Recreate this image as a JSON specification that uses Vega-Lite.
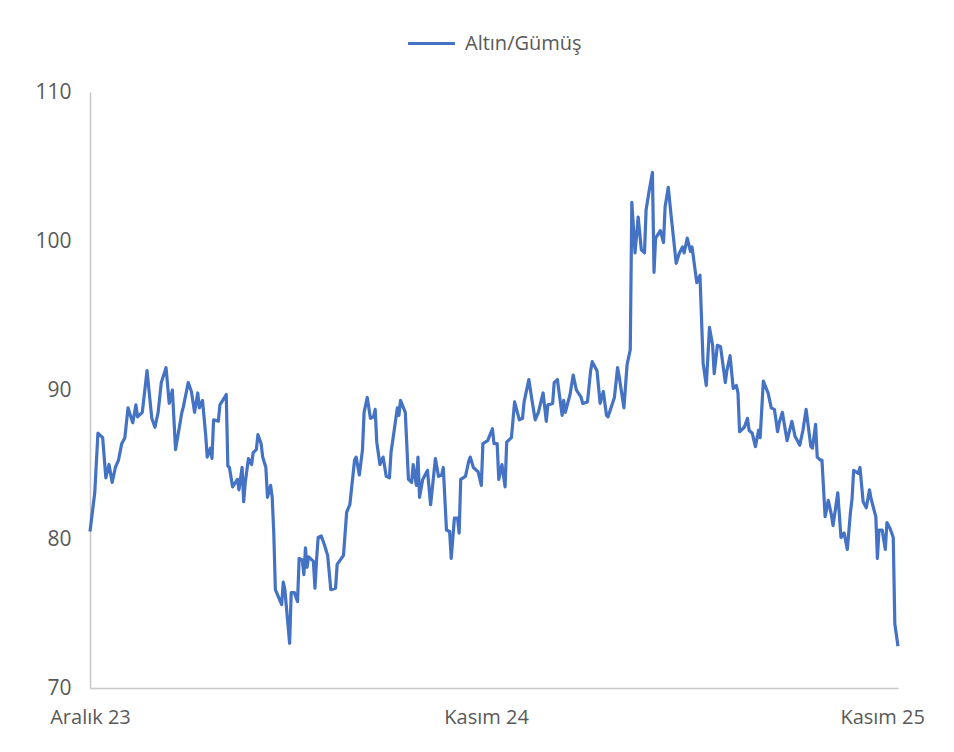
{
  "$schema": "https://vega.github.io/schema/vega-lite/v6.json",
  "autosize": "none",
  "width": 808,
  "height": 596,
  "padding": {"left": 90, "top": 92, "right": 56, "bottom": 64},
  "background": "white",
  "config": {
    "view": {"stroke": null},
    "font": "Open Sans"
  },
  "data": {
    "values": [
      {"gun": 0, "oran": 80.5}, {"gun": 3, "oran": 83.1}, {"gun": 5, "oran": 87.1}, {"gun": 8, "oran": 86.8},
      {"gun": 10, "oran": 84.1}, {"gun": 12, "oran": 85.0}, {"gun": 14, "oran": 83.8}, {"gun": 16, "oran": 84.8},
      {"gun": 18, "oran": 85.3}, {"gun": 20, "oran": 86.4}, {"gun": 22, "oran": 86.8}, {"gun": 24, "oran": 88.8},
      {"gun": 27, "oran": 87.8}, {"gun": 29, "oran": 89.0}, {"gun": 30, "oran": 88.2}, {"gun": 33, "oran": 88.5},
      {"gun": 36, "oran": 91.3}, {"gun": 39, "oran": 88.1}, {"gun": 41, "oran": 87.5}, {"gun": 43, "oran": 88.5},
      {"gun": 45, "oran": 90.5}, {"gun": 48, "oran": 91.5}, {"gun": 50, "oran": 89.1}, {"gun": 52, "oran": 90.0},
      {"gun": 54, "oran": 86.0}, {"gun": 58, "oran": 88.5}, {"gun": 59, "oran": 88.9}, {"gun": 62, "oran": 90.5},
      {"gun": 64, "oran": 89.9}, {"gun": 66, "oran": 88.5}, {"gun": 68, "oran": 89.8}, {"gun": 69, "oran": 88.8},
      {"gun": 71, "oran": 89.3}, {"gun": 73, "oran": 87.0}, {"gun": 74, "oran": 85.5}, {"gun": 76, "oran": 86.1},
      {"gun": 77, "oran": 85.4}, {"gun": 78, "oran": 88.0}, {"gun": 81, "oran": 87.9}, {"gun": 82, "oran": 89.0},
      {"gun": 85, "oran": 89.5}, {"gun": 86, "oran": 89.7}, {"gun": 87, "oran": 84.9}, {"gun": 88, "oran": 84.8},
      {"gun": 90, "oran": 83.5}, {"gun": 93, "oran": 84.0}, {"gun": 94, "oran": 83.3}, {"gun": 96, "oran": 84.8},
      {"gun": 97, "oran": 82.5}, {"gun": 98, "oran": 83.8}, {"gun": 100, "oran": 85.4}, {"gun": 102, "oran": 85.0},
      {"gun": 103, "oran": 85.8}, {"gun": 105, "oran": 86.0}, {"gun": 106, "oran": 87.0}, {"gun": 108, "oran": 86.4},
      {"gun": 109, "oran": 85.5}, {"gun": 111, "oran": 84.8}, {"gun": 112, "oran": 82.8}, {"gun": 114, "oran": 83.6},
      {"gun": 115, "oran": 82.8}, {"gun": 116, "oran": 80.4}, {"gun": 117, "oran": 76.6}, {"gun": 119, "oran": 76.1},
      {"gun": 121, "oran": 75.6}, {"gun": 122, "oran": 77.1}, {"gun": 123, "oran": 76.6}, {"gun": 126, "oran": 73.0},
      {"gun": 127, "oran": 76.4}, {"gun": 129, "oran": 76.4}, {"gun": 131, "oran": 75.8}, {"gun": 132, "oran": 78.7},
      {"gun": 134, "oran": 78.6}, {"gun": 135, "oran": 77.6}, {"gun": 136, "oran": 79.4}, {"gun": 137, "oran": 78.1},
      {"gun": 138, "oran": 78.8}, {"gun": 141, "oran": 78.5}, {"gun": 142, "oran": 76.7}, {"gun": 143, "oran": 78.6},
      {"gun": 144, "oran": 80.1}, {"gun": 146, "oran": 80.2}, {"gun": 148, "oran": 79.6}, {"gun": 150, "oran": 78.9},
      {"gun": 152, "oran": 76.6}, {"gun": 155, "oran": 76.7}, {"gun": 156, "oran": 78.3}, {"gun": 160, "oran": 78.9},
      {"gun": 162, "oran": 81.8}, {"gun": 164, "oran": 82.3}, {"gun": 167, "oran": 85.3}, {"gun": 168, "oran": 85.5},
      {"gun": 170, "oran": 84.3}, {"gun": 172, "oran": 86.0}, {"gun": 173, "oran": 88.5}, {"gun": 175, "oran": 89.5},
      {"gun": 177, "oran": 88.1}, {"gun": 179, "oran": 88.2}, {"gun": 180, "oran": 88.7}, {"gun": 181, "oran": 86.5},
      {"gun": 183, "oran": 85.0}, {"gun": 185, "oran": 85.5}, {"gun": 187, "oran": 84.2}, {"gun": 189, "oran": 84.1},
      {"gun": 190, "oran": 85.8}, {"gun": 192, "oran": 87.3}, {"gun": 194, "oran": 88.8}, {"gun": 195, "oran": 88.3},
      {"gun": 196, "oran": 89.3}, {"gun": 199, "oran": 88.5}, {"gun": 201, "oran": 84.0}, {"gun": 203, "oran": 83.8},
      {"gun": 204, "oran": 85.0}, {"gun": 206, "oran": 83.6}, {"gun": 207, "oran": 85.5}, {"gun": 208, "oran": 82.8},
      {"gun": 210, "oran": 84.0}, {"gun": 213, "oran": 84.6}, {"gun": 215, "oran": 82.3}, {"gun": 218, "oran": 85.4},
      {"gun": 220, "oran": 84.2}, {"gun": 222, "oran": 84.3}, {"gun": 223, "oran": 84.8}, {"gun": 225, "oran": 80.6},
      {"gun": 227, "oran": 80.5}, {"gun": 228, "oran": 78.7}, {"gun": 230, "oran": 81.4}, {"gun": 232, "oran": 81.4},
      {"gun": 233, "oran": 80.4}, {"gun": 234, "oran": 84.0}, {"gun": 237, "oran": 84.2}, {"gun": 239, "oran": 85.2},
      {"gun": 240, "oran": 85.5}, {"gun": 242, "oran": 84.8}, {"gun": 245, "oran": 84.5}, {"gun": 247, "oran": 83.6},
      {"gun": 248, "oran": 86.4}, {"gun": 251, "oran": 86.6}, {"gun": 254, "oran": 87.4}, {"gun": 255, "oran": 86.4},
      {"gun": 257, "oran": 86.4}, {"gun": 258, "oran": 84.0}, {"gun": 260, "oran": 85.0}, {"gun": 262, "oran": 83.5},
      {"gun": 263, "oran": 86.5}, {"gun": 266, "oran": 86.8}, {"gun": 268, "oran": 89.2}, {"gun": 269, "oran": 88.8},
      {"gun": 271, "oran": 88.0}, {"gun": 273, "oran": 88.1}, {"gun": 274, "oran": 89.2}, {"gun": 277, "oran": 90.7},
      {"gun": 279, "oran": 89.3}, {"gun": 281, "oran": 88.0}, {"gun": 283, "oran": 88.5}, {"gun": 286, "oran": 89.8},
      {"gun": 288, "oran": 87.9}, {"gun": 289, "oran": 89.0}, {"gun": 292, "oran": 89.1}, {"gun": 293, "oran": 90.5},
      {"gun": 295, "oran": 90.7}, {"gun": 298, "oran": 88.3}, {"gun": 299, "oran": 89.3}, {"gun": 300, "oran": 88.5},
      {"gun": 303, "oran": 89.7}, {"gun": 305, "oran": 91.0}, {"gun": 307, "oran": 90.0}, {"gun": 310, "oran": 89.5},
      {"gun": 311, "oran": 89.1}, {"gun": 314, "oran": 89.2}, {"gun": 316, "oran": 91.3}, {"gun": 317, "oran": 91.9},
      {"gun": 320, "oran": 91.3}, {"gun": 322, "oran": 89.1}, {"gun": 324, "oran": 89.9}, {"gun": 326, "oran": 88.3},
      {"gun": 327, "oran": 88.2}, {"gun": 331, "oran": 89.5}, {"gun": 333, "oran": 91.5}, {"gun": 334, "oran": 90.9},
      {"gun": 337, "oran": 88.8}, {"gun": 339, "oran": 91.7}, {"gun": 341, "oran": 92.7}, {"gun": 342, "oran": 102.6},
      {"gun": 344, "oran": 99.2}, {"gun": 346, "oran": 101.6}, {"gun": 348, "oran": 99.4}, {"gun": 350, "oran": 99.2},
      {"gun": 351, "oran": 102.1}, {"gun": 353, "oran": 103.4}, {"gun": 355, "oran": 104.6}, {"gun": 356, "oran": 97.9},
      {"gun": 357, "oran": 100.2}, {"gun": 360, "oran": 100.7}, {"gun": 362, "oran": 99.9}, {"gun": 363, "oran": 102.3},
      {"gun": 365, "oran": 103.6}, {"gun": 367, "oran": 101.5}, {"gun": 370, "oran": 98.5}, {"gun": 372, "oran": 99.2},
      {"gun": 374, "oran": 99.6}, {"gun": 375, "oran": 99.2}, {"gun": 377, "oran": 100.2}, {"gun": 379, "oran": 99.3},
      {"gun": 380, "oran": 99.6}, {"gun": 383, "oran": 97.2}, {"gun": 385, "oran": 97.7}, {"gun": 387, "oran": 91.8},
      {"gun": 389, "oran": 90.3}, {"gun": 391, "oran": 94.2}, {"gun": 393, "oran": 93.0}, {"gun": 394, "oran": 91.1},
      {"gun": 396, "oran": 93.0}, {"gun": 398, "oran": 92.9}, {"gun": 401, "oran": 90.5}, {"gun": 402, "oran": 91.3},
      {"gun": 404, "oran": 92.3}, {"gun": 406, "oran": 90.1}, {"gun": 408, "oran": 90.3}, {"gun": 409, "oran": 89.8},
      {"gun": 410, "oran": 87.2}, {"gun": 413, "oran": 87.5}, {"gun": 415, "oran": 88.1}, {"gun": 416, "oran": 87.3},
      {"gun": 418, "oran": 87.1}, {"gun": 420, "oran": 86.2}, {"gun": 422, "oran": 87.3}, {"gun": 423, "oran": 86.8},
      {"gun": 425, "oran": 90.6}, {"gun": 428, "oran": 89.8}, {"gun": 430, "oran": 88.8}, {"gun": 432, "oran": 88.7},
      {"gun": 434, "oran": 87.2}, {"gun": 435, "oran": 87.8}, {"gun": 437, "oran": 88.5}, {"gun": 440, "oran": 86.6},
      {"gun": 443, "oran": 87.9}, {"gun": 445, "oran": 86.9}, {"gun": 448, "oran": 86.3}, {"gun": 450, "oran": 87.3},
      {"gun": 452, "oran": 88.7}, {"gun": 455, "oran": 86.2}, {"gun": 456, "oran": 86.1}, {"gun": 458, "oran": 87.7},
      {"gun": 459, "oran": 85.5}, {"gun": 461, "oran": 85.3}, {"gun": 462, "oran": 85.3}, {"gun": 464, "oran": 81.5},
      {"gun": 466, "oran": 82.6}, {"gun": 468, "oran": 81.6}, {"gun": 469, "oran": 80.9}, {"gun": 472, "oran": 83.1},
      {"gun": 474, "oran": 80.1}, {"gun": 476, "oran": 80.4}, {"gun": 478, "oran": 79.3}, {"gun": 480, "oran": 81.8},
      {"gun": 481, "oran": 82.7}, {"gun": 482, "oran": 84.6}, {"gun": 485, "oran": 84.4}, {"gun": 486, "oran": 84.8},
      {"gun": 488, "oran": 82.5}, {"gun": 490, "oran": 82.1}, {"gun": 492, "oran": 83.3}, {"gun": 493, "oran": 82.7},
      {"gun": 496, "oran": 81.5}, {"gun": 497, "oran": 78.7}, {"gun": 498, "oran": 80.6}, {"gun": 500, "oran": 80.6},
      {"gun": 502, "oran": 79.3}, {"gun": 503, "oran": 81.1}, {"gun": 505, "oran": 80.7}, {"gun": 507, "oran": 80.1},
      {"gun": 508, "oran": 74.3}, {"gun": 510, "oran": 72.8}
    ]
  },
  "mark": {"type": "line", "strokeWidth": 3.2, "interpolate": "linear", "strokeJoin": "round"},
  "encoding": {
    "x": {
      "field": "gun",
      "type": "quantitative",
      "scale": {"domain": [0, 510], "nice": false, "zero": false},
      "axis": {
        "title": null,
        "values": [0, 250, 500],
        "labelExpr": "datum.value == 0 ? 'Aralık 23' : datum.value == 250 ? 'Kasım 24' : 'Kasım 25'",
        "ticks": false,
        "grid": false,
        "domainColor": "#c8c8c8",
        "domainWidth": 1.5,
        "labelColor": "#595959",
        "labelFontSize": 20,
        "labelPadding": 19,
        "labelFlush": false,
        "labelOverlap": false
      }
    },
    "y": {
      "field": "oran",
      "type": "quantitative",
      "scale": {"domain": [70, 110], "nice": false, "zero": false},
      "axis": {
        "title": null,
        "values": [70, 80, 90, 100, 110],
        "ticks": false,
        "grid": false,
        "domainColor": "#c8c8c8",
        "domainWidth": 1.5,
        "labelColor": "#595959",
        "labelFontSize": 21,
        "labelPadding": 19
      }
    },
    "color": {
      "datum": "Altın/Gümüş",
      "type": "nominal",
      "scale": {"range": ["#4472C4"]},
      "legend": {
        "title": null,
        "orient": "none",
        "legendX": 316,
        "legendY": -74,
        "symbolType": "stroke",
        "symbolSize": 2200,
        "symbolStrokeWidth": 3.2,
        "labelFontSize": 20,
        "labelColor": "#595959",
        "labelOffset": 8
      }
    }
  }
}
